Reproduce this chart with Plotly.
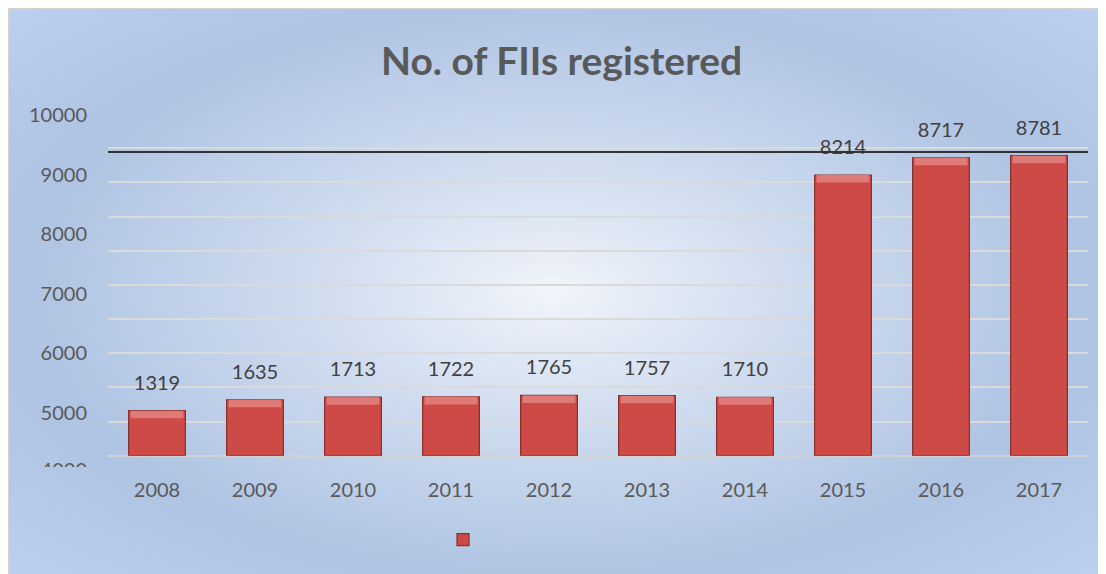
import base64
import struct
import zlib

import numpy as np
import plotly.graph_objects as go

# Data
years = ['2008', '2009', '2010', '2011', '2012', '2013', '2014', '2015', '2016', '2017']
fii_counts = [1319, 1635, 1713, 1722, 1765, 1757, 1710, 8214, 8717, 8781]
left_tick_vals = [4000, 5000, 6000, 7000, 8000, 9000, 10000]
left_tick_text = ['4000', '5000', '6000', '7000', '8000', '9000', '10000']
ref_line_value = 8890

W, H = 1106, 574
OFF = 8  # page body margin, the figure starts 8px in
FONT = 'Lato'
TXT = '#595959'


def px_x(p):
    return (p - OFF) / W


def px_y(p):
    return 1 - (p - OFF) / H


# background gradient as a small png, stretched over the chart area
def gradient_png(w, h):
    yy, xx = np.mgrid[0:h, 0:w]
    cx, cy = w * 0.49, h * 0.49
    t = np.sqrt(((xx - cx) / (w * 0.47)) ** 2 + ((yy - cy) / (h * 0.5)) ** 2)
    t = np.clip(t, 0, 1) ** 0.85
    inner = np.array([244, 247, 252], dtype=float)
    outer = np.array([176, 197, 228], dtype=float)
    img = inner[None, None, :] * (1 - t[..., None]) + outer[None, None, :] * t[..., None]
    # corners a bit lighter
    corner = np.clip(np.sqrt(((xx - cx) / (w * 0.5)) ** 2 + ((yy - cy) / (h * 0.5)) ** 2) - 1.0, 0, 0.4)
    img = img + corner[..., None] * 30
    img = np.clip(img, 0, 255).astype(np.uint8)
    raw = b''.join(b'\x00' + img[r].tobytes() for r in range(h))

    def chunk(tag, data):
        return struct.pack('>I', len(data)) + tag + data + struct.pack('>I', zlib.crc32(tag + data) & 0xffffffff)

    png = (b'\x89PNG\r\n\x1a\n'
           + chunk(b'IHDR', struct.pack('>IIBBBBB', w, h, 8, 2, 0, 0, 0))
           + chunk(b'IDAT', zlib.compress(raw, 9))
           + chunk(b'IEND', b''))
    return 'data:image/png;base64,' + base64.b64encode(png).decode()


cap = 220  # lighter bevel strip on top of each bar

fig = go.Figure()

fig.add_trace(go.Bar(
    x=years, y=fii_counts, name=' ',
    width=0.58,
    marker=dict(color='#cd4a47', line=dict(color='#86302e', width=1.2)),
    hoverinfo='x+y',
    showlegend=True,
))
fig.add_trace(go.Bar(
    x=years, y=[cap] * len(years), base=[v - cap for v in fii_counts],
    width=0.54,
    marker=dict(color='#e07a77', line=dict(width=0)),
    hoverinfo='skip',
    showlegend=False,
))

# value labels above the bars (invisible marker keeps them lifted)
fig.add_trace(go.Scatter(
    x=years, y=fii_counts, text=[str(v) for v in fii_counts],
    mode='markers+text', textposition='top center',
    marker=dict(size=24, opacity=0),
    textfont=dict(family=FONT, size=20, color='#404040'),
    cliponaxis=False, hoverinfo='skip', showlegend=False,
))

# partly hidden bottom label, clipped to the label axis
fig.add_trace(go.Scatter(
    x=[87], y=[left_tick_vals[0]], text=[left_tick_text[0]],
    mode='text', textposition='middle left',
    textfont=dict(family=FONT, size=20, color=TXT),
    cliponaxis=True, xaxis='x2', yaxis='y2',
    hoverinfo='skip', showlegend=False,
))

fig.add_annotation(x=px_x(561), y=px_y(60), xref='paper', yref='paper',
                   xanchor='center', yanchor='middle',
                   text='No. of FIIs registered', showarrow=False,
                   font=dict(family=FONT, size=39, color=TXT, weight='bold'))

fig.add_shape(type='line', xref='x domain', yref='y', x0=0, x1=1,
              y0=ref_line_value, y1=ref_line_value,
              line=dict(color='#333333', width=2))

# chart border (left and top visible)
fig.add_shape(type='rect', xref='paper', yref='paper',
              x0=px_x(8), x1=1.05, y0=-0.05, y1=px_y(8),
              line=dict(color='#d6d2cc', width=2), layer='above')

fig.add_layout_image(dict(
    source=gradient_png(274, 141), xref='paper', yref='paper',
    x=px_x(8), y=px_y(8), sizex=1.0, sizey=1.0,
    xanchor='left', yanchor='top', sizing='stretch', layer='below',
))

fig.update_layout(
    width=W, height=H,
    margin=dict(l=0, r=0, t=0, b=0, autoexpand=False),
    paper_bgcolor='white',
    plot_bgcolor='rgba(0,0,0,0)',
    barmode='overlay',
    font=dict(family=FONT, color=TXT),
    xaxis=dict(domain=[px_x(108), px_x(1088)], type='category',
               categoryorder='array', categoryarray=years,
               range=[-0.5, len(years) - 0.5],
               showgrid=False, showline=False, ticks='',
               tickfont=dict(family=FONT, size=20, color=TXT),
               ticklabelstandoff=20, fixedrange=True, automargin=False),
    yaxis=dict(domain=[px_y(455.7), px_y(114)], range=[0, 10000], dtick=1000,
               showticklabels=False, ticks='',
               showgrid=True, gridcolor='#dadada', gridwidth=2,
               zeroline=True, zerolinecolor='#d2d2d2', zerolinewidth=2,
               fixedrange=True, automargin=False),
    xaxis2=dict(domain=[px_x(20), px_x(100)], range=[20, 100], anchor='y2',
                visible=False, fixedrange=True),
    yaxis2=dict(domain=[px_y(467), px_y(114)], range=[4084, 10017],
                anchor='free', position=px_x(87),
                tickvals=left_tick_vals, ticktext=left_tick_text,
                tickfont=dict(family=FONT, size=20, color=TXT),
                showgrid=False, zeroline=False, showline=False, ticks='',
                fixedrange=True, automargin=False),
    legend=dict(orientation='h', x=px_x(443), y=px_y(540),
                xanchor='left', yanchor='middle',
                bgcolor='rgba(0,0,0,0)', font=dict(size=14)),
)

fig.write_html('out.html')
